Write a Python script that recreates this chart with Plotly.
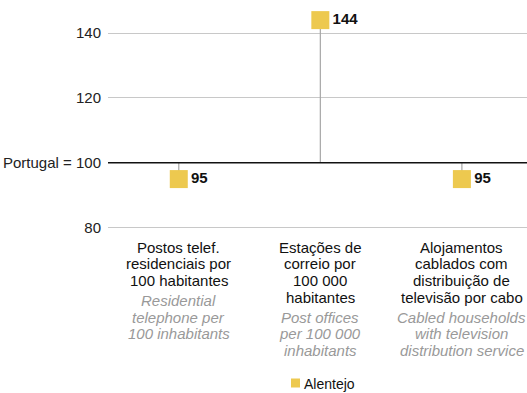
import plotly.graph_objects as go

# Index values, Portugal = 100
labels_pt = [
    ["Postos telef.", "residenciais por", "100 habitantes"],
    ["Estações de", "correio por", "100 000", "habitantes"],
    ["Alojamentos", "cablados com", "distribuição de", "televisão por cabo"],
]
labels_en = [
    ["Residential", "telephone per", "100 inhabitants"],
    ["Post offices", "per 100 000", "inhabitants"],
    ["Cabled households", "with television", "distribution service"],
]
series_name = "Alentejo"
alentejo = [95, 144, 95]
baseline = 100
y_ticks = [80, 100, 120, 140]
y_tick_labels = ["80", "Portugal = 100", "120", "140"]

FONT = "Liberation Sans, Arial, sans-serif"
YELLOW = "#EDC94F"
PLOT_H = 231          # plot area height in px (margin t=0)
PLOT_W = 419
LINE = 16.7           # line pitch of the category labels
FIRST_LINE = 247      # px from top for the first label line
BLOCK_GAP = 20        # pitch between the Portuguese and English blocks

xs = list(range(len(alentejo)))
fig = go.Figure()

# drop lines from the Portugal baseline to each value
for x, v in zip(xs, alentejo):
    fig.add_trace(go.Scatter(
        x=[x, x], y=[baseline, v], mode="lines",
        line=dict(color="#A6A6A6", width=1.2),
        showlegend=False, hoverinfo="skip",
    ))

fig.add_trace(go.Scatter(
    x=xs, y=alentejo, mode="markers+text", name=series_name,
    marker=dict(symbol="square", size=18, color=YELLOW),
    text=[f"<b>{v}</b>" for v in alentejo],
    textposition="middle right",
    textfont=dict(family=FONT, size=15, color="#111"),
    cliponaxis=False, showlegend=False,
))

# category labels: Portuguese (dark) then English (grey italic), one line each
for x, pt, en in zip(xs, labels_pt, labels_en):
    rows = []
    y = FIRST_LINE
    for line in pt:
        rows.append((line, y, False))
        y += LINE
    y += BLOCK_GAP - LINE
    for line in en:
        rows.append((line, y, True))
        y += LINE
    for text, py, italic in rows:
        fig.add_annotation(
            x=x, y=0, xref="x", yref="paper", yanchor="middle",
            yshift=-(py - PLOT_H), showarrow=False,
            text=f"<i>{text}</i>" if italic else text,
            font=dict(family=FONT, size=15,
                      color="#999999" if italic else "#111111"),
        )

# legend entry
LEG_Y = 384
fig.add_shape(type="rect", xref="paper", yref="paper",
              x0=(291 - 108) / PLOT_W, x1=(300 - 108) / PLOT_W,
              y0=-(LEG_Y + 3.5 - PLOT_H) / PLOT_H,
              y1=-(LEG_Y - 5.5 - PLOT_H) / PLOT_H,
              fillcolor=YELLOW, line=dict(width=0))
fig.add_annotation(x=(302 - 108) / PLOT_W, y=0, xref="paper", yref="paper",
                   xanchor="left", yanchor="middle", yshift=-(LEG_Y - PLOT_H),
                   showarrow=False, text=series_name,
                   font=dict(family=FONT, size=14, color="#111"))

fig.add_hline(y=baseline, line=dict(color="#111", width=1.5), layer="above")

fig.update_layout(
    width=527, height=393,
    margin=dict(l=108, r=0, t=0, b=393 - PLOT_H),
    paper_bgcolor="white", plot_bgcolor="white",
    font=dict(family=FONT, size=15, color="#222"),
    xaxis=dict(range=[-0.5, 2.46], showticklabels=False, showgrid=False,
               zeroline=False, showline=False, fixedrange=True),
    yaxis=dict(range=[79, 150.2], tickvals=y_ticks, ticktext=y_tick_labels,
               showgrid=True, gridcolor="#C8C8C8", gridwidth=1,
               zeroline=False, showline=False, ticks="outside",
               ticklen=3, tickcolor="rgba(0,0,0,0)",
               tickfont=dict(family=FONT, size=15, color="#222")),
    showlegend=False,
)

fig.write_html("out.html")
